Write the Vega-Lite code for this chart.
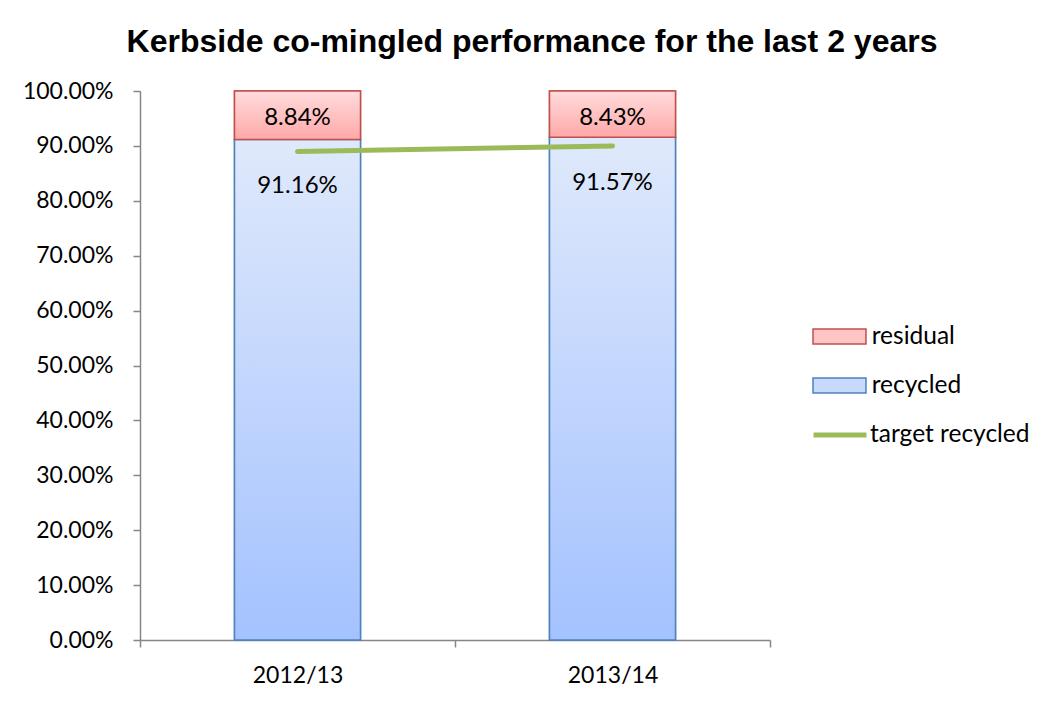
{
  "$schema": "https://vega.github.io/schema/vega-lite/v6.json",
  "autosize": {"type": "none"},
  "width": 630,
  "height": 549,
  "padding": {"left": 140, "top": 91, "right": 291, "bottom": 67},
  "background": "white",
  "title": {
    "text": "Kerbside co-mingled performance for the last 2 years",
    "font": "Liberation Sans",
    "fontSize": 32,
    "fontWeight": "bold",
    "color": "#000000",
    "anchor": "middle",
    "dx": 77,
    "baseline": "alphabetic",
    "offset": -4
  },
  "config": {
    "view": {"stroke": null},
    "axis": {
      "labelFont": "Lato",
      "labelFontSize": 23,
      "labelColor": "#000000",
      "domainColor": "#868686",
      "domainWidth": 1.5,
      "tickColor": "#868686",
      "tickWidth": 1.5,
      "tickSize": 7,
      "grid": false,
      "title": null
    }
  },
  "datasets": {
    "bars": [
      {"year": "2012/13", "series": "recycled", "value": 0.9116},
      {"year": "2012/13", "series": "residual", "value": 0.0884},
      {"year": "2013/14", "series": "recycled", "value": 0.9157},
      {"year": "2013/14", "series": "residual", "value": 0.0843}
    ],
    "target": [
      {"year": "2012/13", "series": "target recycled", "target": 0.89},
      {"year": "2013/14", "series": "target recycled", "target": 0.90}
    ]
  },
  "layer": [
    {
      "data": {"name": "bars"},
      "transform": [
        {"stack": "value", "groupby": ["year"], "sort": [{"field": "series", "order": "ascending"}], "as": ["v0", "v1"]}
      ],
      "encoding": {
        "x": {
          "field": "year", "type": "nominal",
          "scale": {"paddingInner": 0, "paddingOuter": 0},
          "axis": {"labelAngle": 0, "tickBand": "extent", "labelPadding": 17}
        }
      },
      "layer": [
        {
          "mark": {"type": "bar", "width": {"band": 0.4}, "strokeWidth": 1.5},
          "encoding": {
            "y": {
              "field": "v0", "type": "quantitative",
              "scale": {"domain": [0, 1], "nice": false},
              "axis": {"format": ".2%", "values": [0, 0.1, 0.2, 0.3, 0.4, 0.5, 0.6, 0.7, 0.8, 0.9, 1.0], "labelPadding": 20}
            },
            "y2": {"field": "v1"},
            "fill": {
              "field": "series", "type": "nominal",
              "scale": {"domain": ["residual", "recycled"], "range": ["#ffc4c4", "#c8dafb"]},
              "legend": {
                "orient": "none",
                "legendX": 681,
                "legendY": 227,
                "title": null,
                "padding": 0,
                "symbolType": "M-1.5,-0.425H1.5V0.425H-1.5Z",
                "symbolSize": 1248,
                "symbolStrokeWidth": 1.5,
                "rowPadding": 19,
                "labelFont": "Lato",
                "labelFontSize": 24.5,
                "labelColor": "#000000",
                "labelOffset": 13.7
              }
            },
            "stroke": {
              "field": "series", "type": "nominal",
              "scale": {"domain": ["residual", "recycled"], "range": ["#c0504d", "#4f81bd"]},
              "legend": {
                "orient": "none",
                "legendX": 681,
                "legendY": 227,
                "title": null,
                "padding": 0,
                "symbolType": "M-1.5,-0.425H1.5V0.425H-1.5Z",
                "symbolSize": 1248,
                "symbolStrokeWidth": 1.5,
                "rowPadding": 19,
                "labelFont": "Lato",
                "labelFontSize": 24.5,
                "labelColor": "#000000",
                "labelOffset": 13.7
              }
            }
          }
        },
        {
          "mark": {"type": "bar", "width": {"band": 0.4}, "strokeWidth": 1.5},
          "encoding": {
            "y": {"field": "v0", "type": "quantitative"},
            "y2": {"field": "v1"},
            "stroke": {"field": "series", "type": "nominal", "legend": null},
            "fill": {
              "condition": {
                "test": "datum.series === 'residual'",
                "value": {"gradient": "linear", "x1": 0, "y1": 0, "x2": 0, "y2": 1, "stops": [{"offset": 0, "color": "#ffdcdc"}, {"offset": 1, "color": "#ffa8a8"}]}
              },
              "value": {"gradient": "linear", "x1": 0, "y1": 0, "x2": 0, "y2": 1, "stops": [{"offset": 0, "color": "#dfe9fb"}, {"offset": 1, "color": "#a4c2ff"}]}
            }
          }
        },
        {
          "transform": [{"filter": "datum.series === 'residual'"}],
          "mark": {"type": "text", "font": "Lato", "fontSize": 24, "baseline": "middle", "dy": 27, "color": "#000000"},
          "encoding": {
            "y": {"field": "v1", "type": "quantitative"},
            "text": {"field": "value", "type": "quantitative", "format": ".2%"}
          }
        },
        {
          "transform": [{"filter": "datum.series === 'recycled'"}],
          "mark": {"type": "text", "font": "Lato", "fontSize": 24, "baseline": "middle", "dy": 46, "color": "#000000"},
          "encoding": {
            "y": {"field": "v1", "type": "quantitative"},
            "text": {"field": "value", "type": "quantitative", "format": ".2%"}
          }
        }
      ]
    },
    {
      "data": {"name": "target"},
      "mark": {"type": "line", "strokeWidth": 5, "strokeCap": "round"},
      "encoding": {
        "x": {"field": "year", "type": "nominal"},
        "y": {"field": "target", "type": "quantitative"},
        "color": {
          "field": "series", "type": "nominal",
          "scale": {"range": ["#9bbb59"]},
          "legend": {
            "orient": "none",
            "legendX": 671,
            "legendY": 315,
            "title": null,
            "padding": 0,
            "symbolType": "stroke",
            "symbolSize": 2809,
            "symbolStrokeWidth": 5,
            "labelFont": "Lato",
            "labelFontSize": 24.5,
            "labelColor": "#000000",
            "labelOffset": 1
          }
        }
      }
    }
  ]
}
